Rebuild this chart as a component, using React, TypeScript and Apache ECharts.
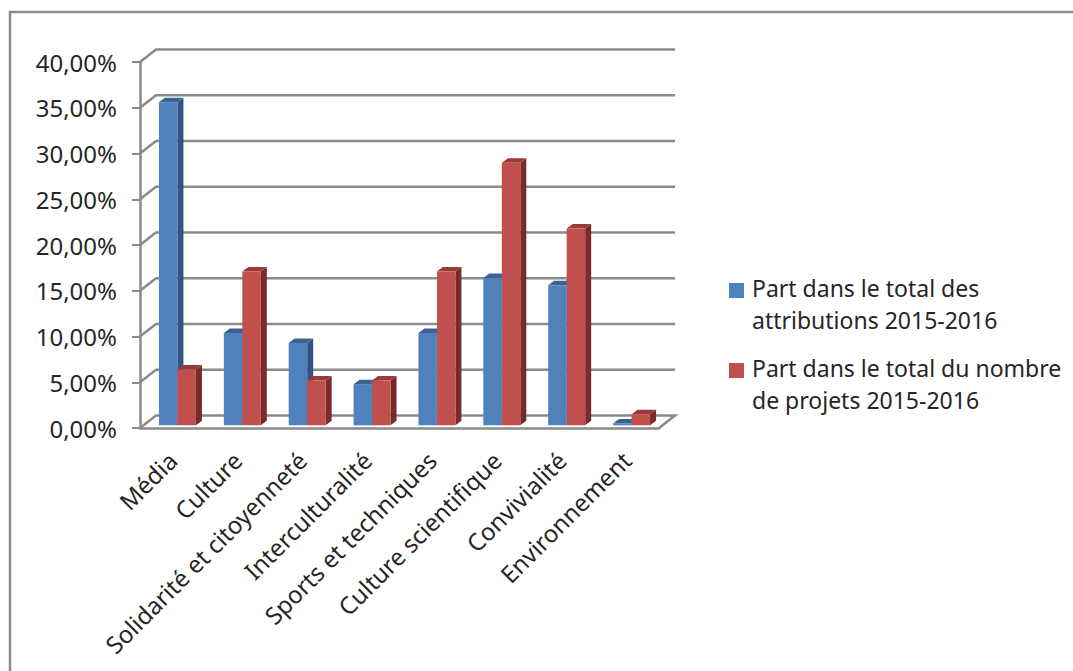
import React, { useEffect, useRef } from "react";
import * as echarts from "echarts";

const categories = ["Média", "Culture", "Solidarité et citoyenneté", "Interculturalité", "Sports et techniques", "Culture scientifique", "Convivialité", "Environnement"];
const attributions = [35.3, 10.1, 9.0, 4.5, 10.1, 16.1, 15.3, 0.2];
const projets = [6.1, 16.8, 4.9, 4.9, 16.8, 28.7, 21.5, 1.2];
const yTicks = [0, 5, 10, 15, 20, 25, 30, 35, 40];
const seriesNames = ["Part dans le total des attributions 2015-2016", "Part dans le total du nombre de projets 2015-2016"];
const legendLines = [["Part dans le total des", "attributions 2015-2016"], ["Part dans le total du nombre", "de projets 2015-2016"]];

const GRID = { left: 140, top: 62, width: 519, height: 366 };
const DEPTH_X = 16, DEPTH_Y = 12.5;
const BAR_DX = 5, BAR_DY = 2.7, SIDE_DX = 6, SIDE_DY = 4.5;
const LINE = "#8a8a8a";
const FONT = "'Noto Sans', sans-serif";
const TEXT = "#262626";
const BLUE = { front: "#4F81BD", top: "#3A6394", side: "#2F5485" };
const RED = { front: "#C0504D", top: "#9A3B38", side: "#772C2A" };

function barRenderer(offset: number, c: { front: string; top: string; side: string }) {
  return (_p: any, api: any) => {
    const i = api.value(0), v = api.value(1);
    const band = api.size([1, 0])[0];
    const w = band * 0.285;
    const base = api.coord([i, 0]);
    const top = api.coord([i, v]);
    const x0 = base[0] + BAR_DX + (offset === 0 ? -w : 0);
    const x1 = x0 + w;
    const yb = base[1] - BAR_DY;
    const yt = top[1] - BAR_DY;
    return {
      type: "group",
      children: [
        { type: "polygon", shape: { points: [[x1, yb], [x1 + SIDE_DX, yb - SIDE_DY], [x1 + SIDE_DX, yt - SIDE_DY], [x1, yt]] }, style: { fill: c.side } },
        { type: "polygon", shape: { points: [[x0, yt], [x0 + SIDE_DX, yt - SIDE_DY], [x1 + SIDE_DX, yt - SIDE_DY], [x1, yt]] }, style: { fill: c.top } },
        { type: "rect", shape: { x: x0, y: yt, width: w, height: yb - yt }, style: { fill: c.front } },
      ],
    };
  };
}

function wallRenderer(params: any, api: any) {
  const v = api.value(1);
  const rect = params.coordSys;
  const y = api.coord([0, v])[1];
  const xl = rect.x, xr = rect.x + rect.width;
  const style = { stroke: LINE, lineWidth: 2.5, fill: "none" };
  const pts: number[][] = [[xl, y], [xl + DEPTH_X, y - DEPTH_Y], [xr + DEPTH_X, y - DEPTH_Y]];
  if (v === 0) pts.push([xr, y]);
  return { type: "polyline", shape: { points: pts }, style };
}

export default function App() {
  const ref = useRef<HTMLDivElement>(null);
  useEffect(() => {
    const chart = echarts.init(ref.current!, null, { renderer: "svg" });
    const legendGraphics: any[] = [];
    [BLUE, RED].forEach((c, k) => {
      const top = k === 0 ? 283 : 363;
      legendGraphics.push({ type: "rect", left: 729, top, shape: { width: 15, height: 15 }, style: { fill: c.front } });
      legendLines[k].forEach((line, j) => {
        legendGraphics.push({ type: "text", left: 752, top: top - 7 + j * 32, style: { text: line, font: `23px ${FONT}`, fill: TEXT } });
      });
    });
    chart.setOption({
      animation: false,
      backgroundColor: "#ffffff",
      grid: { ...GRID, containLabel: false },
      xAxis: {
        type: "category",
        data: categories,
        axisLine: { lineStyle: { color: LINE, width: 2.5 } },
        axisTick: { length: 8, lineStyle: { color: LINE, width: 2 } },
        axisLabel: { rotate: 45, interval: 0, margin: 28, fontSize: 24, fontFamily: FONT, color: TEXT },
      },
      yAxis: {
        type: "value",
        min: 0,
        max: 40,
        interval: 5,
        axisLine: { show: true, lineStyle: { color: LINE, width: 2.5 } },
        axisTick: { show: true, length: 8, lineStyle: { color: LINE, width: 2 } },
        splitLine: { show: false },
        axisLabel: { margin: 23, fontSize: 24, fontFamily: FONT, color: TEXT, formatter: (v: number) => v.toFixed(2).replace(".", ",") + "%" },
      },
      series: [
        { type: "custom", name: "walls", z: 1, clip: false, silent: true, renderItem: wallRenderer, encode: { x: 0, y: 1 }, data: yTicks.map((t) => [0, t]) },
        { type: "custom", name: seriesNames[0], z: 2, clip: false, renderItem: barRenderer(0, BLUE), encode: { x: 0, y: 1 }, data: attributions.map((v, i) => [i, v]) },
        { type: "custom", name: seriesNames[1], z: 3, clip: false, renderItem: barRenderer(1, RED), encode: { x: 0, y: 1 }, data: projets.map((v, i) => [i, v]) },
      ],
      graphic: [
        { type: "polyline", shape: { points: [[10, 671], [10, 12], [1073, 12]] }, style: { stroke: "#8a8a8a", lineWidth: 2.5, fill: "none" } },
        ...legendGraphics,
      ],
    });
    return () => chart.dispose();
  }, []);
  return <div ref={ref} style={{ position: "fixed", left: 0, top: 0, width: 1073, height: 671 }} />;
}
